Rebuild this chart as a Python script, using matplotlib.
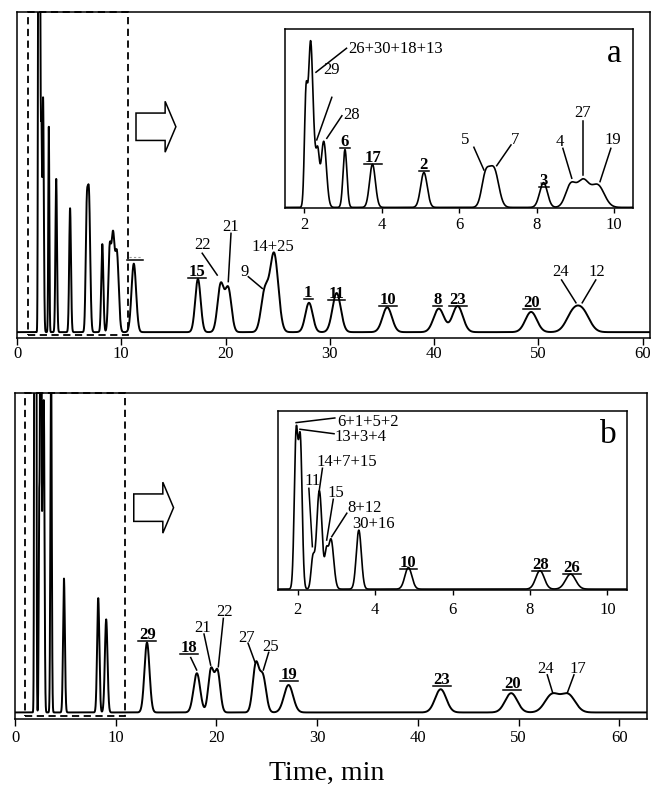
import numpy as np
import matplotlib.pyplot as plt
from matplotlib.patches import Rectangle, Polygon
from matplotlib.lines import Line2D
from matplotlib.transforms import IdentityTransform

plt.rcParams['font.family'] = ['Liberation Serif', 'DejaVu Serif']

# Run a: retention time (min), peak height, peak width (sigma, min)
rt_a = [2.04, 2.16, 2.27, 2.35, 2.50, 3.05, 3.76, 5.09, 6.68, 6.90, 8.18, 8.88, 9.20, 9.58,
        11.2, 17.35, 19.53, 20.26, 23.75, 24.65, 28.0, 30.65, 35.5, 40.45, 42.25, 49.3, 53.3, 54.3]
h_a = [111, 177, 39, 47, 72, 63, 47, 38, 33, 41, 27, 24, 28, 24,
       21, 16.3, 14.5, 13.2, 12, 24, 9, 12, 7.6, 7.2, 8, 6.2, 5.5, 5.5]
w_a = [0.04, 0.058, 0.05, 0.04, 0.07, 0.05, 0.075, 0.085, 0.1, 0.12, 0.1, 0.13, 0.15, 0.17,
       0.22, 0.26, 0.3, 0.3, 0.35, 0.4, 0.35, 0.4, 0.45, 0.5, 0.5, 0.55, 0.65, 0.65]
zoom_a = 1.95   # main / inset scale

# Run b
rt_b = [1.96, 2.07, 2.39, 2.56, 2.74, 2.86, 3.58, 4.86, 8.26, 9.05,
        13.1, 18.05, 19.45, 20.1, 23.9, 24.6, 27.15, 42.25, 49.25, 53.3, 54.9]
h_b = [289, 275, 55, 187, 51, 95, 112, 41, 35, 28.5,
       21.4, 12, 13, 12.5, 14.5, 11, 8.4, 7.1, 5.9, 5.4, 5.4]
w_b = [0.047, 0.047, 0.045, 0.07, 0.04, 0.07, 0.065, 0.09, 0.11, 0.13,
       0.25, 0.33, 0.27, 0.27, 0.3, 0.32, 0.45, 0.55, 0.6, 0.7, 0.7]
zoom_b = 3.4

# peak labels: (text, x, y, bold, ha)
lab_a = [("15", 17.29, 17.2, True, 'center'), ("22", 17.8, 25.4, False, 'center'),
         ("21", 20.52, 31.1, False, 'center'), ("14+25", 24.52, 25.0, False, 'center'),
         ("9", 21.8, 17.3, False, 'center'), ("1", 27.93, 10.7, True, 'center'),
         ("11", 30.65, 10.5, True, 'center'), ("10", 35.6, 8.6, True, 'center'),
         ("8", 40.3, 8.6, True, 'center'), ("23", 42.3, 8.6, True, 'center'),
         ("20", 49.35, 7.8, True, 'center'), ("24", 52.13, 17.2, False, 'center'),
         ("12", 55.58, 17.2, False, 'center')]
lines_a = [((17.76, 24.2), (19.2, 17.5)), ((20.52, 30.3), (20.26, 15.5)),
           ((22.18, 17.0), (23.52, 13.4)), ((52.22, 16.0), (53.6, 9.0)),
           ((55.5, 16.0), (54.2, 9.0))]

lab_ia = [("26+30+18+13", 3.14, 86.3, False, 'left'), ("29", 2.71, 74.5, False, 'center'),
          ("28", 3.23, 49.2, False, 'center'), ("6", 3.05, 34.3, True, 'center'),
          ("17", 3.77, 25.5, True, 'center'), ("2", 5.09, 21.5, True, 'center'),
          ("5", 6.15, 35.4, False, 'center'), ("7", 7.44, 35.4, False, 'center'),
          ("3", 8.19, 12.5, True, 'center'), ("4", 8.61, 34.3, False, 'center'),
          ("27", 9.19, 50.3, False, 'center'), ("19", 9.98, 35.4, False, 'center')]
lines_ia = [((2.30, 75.5), (3.09, 88.9)), ((2.71, 61.5), (2.32, 37.7)),
            ((2.97, 51.2), (2.58, 38.6)), ((6.38, 33.6), (6.64, 20.9)),
            ((7.34, 34.9), (6.97, 23.3)), ((8.68, 33.0), (8.91, 16.3)),
            ((9.21, 48.4), (9.21, 18.1)), ((9.92, 33.0), (9.64, 14.4))]

lab_b = [("29", 13.13, 22.5, True, 'center'), ("18", 17.3, 18.6, True, 'center'),
         ("21", 18.63, 24.5, False, 'center'), ("22", 20.84, 29.6, False, 'center'),
         ("27", 23.0, 21.7, False, 'center'), ("25", 25.38, 18.9, False, 'center'),
         ("19", 27.2, 10.2, True, 'center'), ("23", 42.35, 8.7, True, 'center'),
         ("20", 49.36, 7.4, True, 'center'), ("24", 52.7, 12.0, False, 'center'),
         ("17", 55.9, 12.0, False, 'center')]
lines_b = [((17.44, 16.8), (18.03, 13.0)), ((18.76, 24.0), (19.42, 14.5)),
           ((20.68, 28.8), (20.18, 14.0)), ((23.13, 21.2), (23.82, 15.4)),
           ((25.18, 18.4), (24.65, 13.0)), ((52.83, 11.5), (53.37, 6.0)),
           ((55.48, 11.5), (54.82, 6.0))]

lab_ib = [("6+1+5+2", 3.01, 91.2, False, 'left'), ("13+3+4", 2.96, 82.6, False, 'left'),
          ("14+7+15", 2.49, 68.8, False, 'left'), ("11", 2.17, 58.2, False, 'left'),
          ("15", 2.77, 51.6, False, 'left'), ("8+12", 3.28, 43.2, False, 'left'),
          ("30+16", 3.40, 34.0, False, 'left'), ("10", 4.86, 12.5, True, 'center'),
          ("28", 8.28, 11.1, True, 'center'), ("26", 9.09, 9.4, True, 'center')]
lines_ib = [((1.96, 93.0), (2.96, 95.6)), ((2.06, 89.3), (2.94, 86.8)),
            ((2.64, 67.5), (2.56, 55.4)), ((2.29, 56.3), (2.38, 23.7)),
            ((2.92, 50.2), (2.75, 27.4)), ((3.27, 42.4), (2.88, 29.3))]


def chrom(t, rt, h, w):
    y = np.zeros_like(t)
    for t0, a, s in zip(rt, h, w):
        y += a * np.exp(-0.5 * ((t - t0) / s) ** 2)
    return y


W, H = 654, 788
fig = plt.figure(figsize=(W / 100, H / 100), dpi=100)
t = np.linspace(0, 63, 12000)

ax_a = fig.add_axes([17 / W, 1 - 338 / H, 633 / W, 326 / H])
ins_a = fig.add_axes([285 / W, 1 - 208.3 / H, 348.3 / W, 179 / H])
ax_b = fig.add_axes([15 / W, 1 - 719.3 / H, 631.7 / W, 326.6 / H])
ins_b = fig.add_axes([278.3 / W, 1 - 590 / H, 348.4 / W, 179 / H])

under = []


def put_labels(ax, labels, leaders, size=12):
    for txt, x, y, bold, ha in labels:
        tx = ax.text(x, y, txt, fontsize=size, ha=ha, va='baseline',
                     fontweight='bold' if bold else 'normal')
        if bold:
            under.append((ax, tx, x, y))
    for (x0, y0), (x1, y1) in leaders:
        ax.plot([x0, x1], [y0, y1], color='black', lw=1.1)


def block_arrow(ax, cy=0.648):
    x0, xh, xt = 0.188, 0.234, 0.251
    s, hh = 0.042, 0.078
    pts = [(x0, cy - s), (xh, cy - s), (xh, cy - hh), (xt, cy),
           (xh, cy + hh), (xh, cy + s), (x0, cy + s)]
    ax.add_patch(Polygon(pts, closed=True, fill=False, lw=1.1,
                         transform=ax.transAxes, clip_on=False))


ya = chrom(t, rt_a, h_a, w_a)
yb = chrom(t, rt_b, h_b, w_b)

# main panels
for ax, y, xmax, ylo, box in [(ax_a, ya, 60.7, -1.8, (1.03, 10.61, -0.9)),
                              (ax_b, yb, 62.7, -2.1, (0.99, 10.92, -1.1))]:
    ax.plot(t, y, color='black', lw=1.4)
    ax.set_xlim(0, xmax)
    ax.set_ylim(ylo, ylo + 100)
    ax.set_yticks([])
    ax.set_xticks(range(0, 61, 10))
    ax.tick_params(axis='x', direction='out', length=5, width=1.0, labelsize=12,
                   pad=0.5 if ax is ax_a else 2.5)
    for sp in ax.spines.values():
        sp.set_linewidth(1.1)
    ax.add_patch(Rectangle((box[0], box[2]), box[1] - box[0], ylo + 100 - box[2],
                           fill=False, ls=(0, (4, 2.5)), lw=1.3, clip_on=False))
    block_arrow(ax)

# zoomed insets
for ins, y, k, pad, letter in [(ins_a, ya / zoom_a, zoom_a, 3, 'a'),
                               (ins_b, yb / zoom_b, zoom_b, 5, 'b')]:
    ins.plot(t, y, color='black', lw=1.2)
    ins.set_xlim(1.5, 10.5)
    ins.set_ylim(-0.5, 99.5)
    ins.set_yticks([])
    ins.set_xticks([2, 4, 6, 8, 10])
    ins.tick_params(axis='x', direction='out', length=3.5, width=1.0, labelsize=12, pad=pad)
    for sp in ins.spines.values():
        sp.set_linewidth(1.1)
    ins.text(10.02, 81.5, letter, fontsize=24, ha='center', va='baseline')

put_labels(ax_a, lab_a, lines_a)
put_labels(ins_a, lab_ia, lines_ia)
put_labels(ax_b, lab_b, lines_b)
put_labels(ins_b, lab_ib, lines_ib)

# underline of the label over the 11 min peak
ax_a.plot([10.52, 12.1], [22.1, 22.1], color='black', lw=1.1)
ax_a.plot([10.7, 11.95], [23.2, 23.2], color='0.6', lw=0.8, ls=(0, (2, 2)))

fig.text(0.5, 0.019, "Time, min", fontsize=20, ha='center', va='center')

# underline bold labels
fig.canvas.draw()
r = fig.canvas.get_renderer()
for ax, tx, x, y in under:
    bb = tx.get_window_extent(r)
    yb0 = ax.transData.transform((x, y))[1] - 2
    fig.add_artist(Line2D([bb.x0 - 0.5, bb.x1 + 0.5], [yb0, yb0], color='black',
                          lw=1.1, transform=IdentityTransform()))

fig.savefig("out.png", dpi=100)
